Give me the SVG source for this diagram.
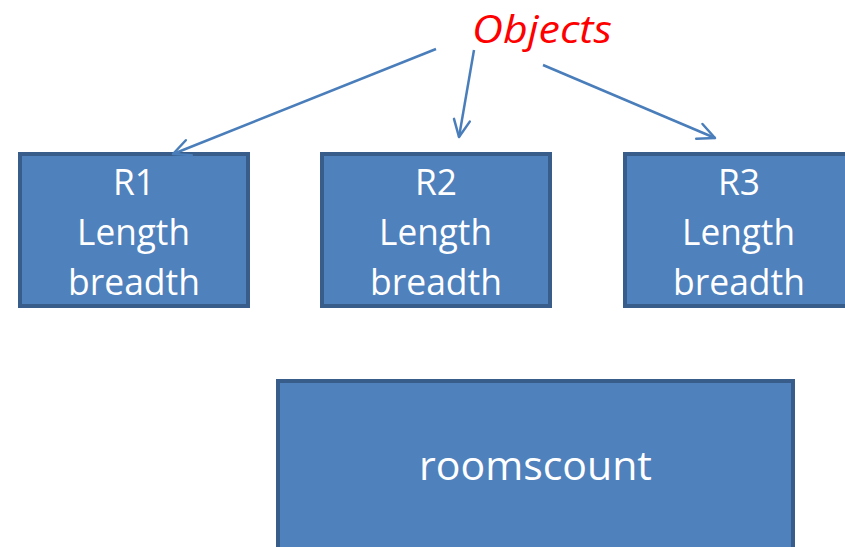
<svg xmlns="http://www.w3.org/2000/svg" width="845" height="547" viewBox="0 0 845 547">
  <style>
    .box { fill: #4f81bd; stroke: #385d8a; stroke-width: 4; }
    .lbl { font-family: "Open Sans", "Liberation Sans", Arial, sans-serif; font-size: 36px; fill: #ffffff; }
    .big { font-family: "Open Sans", "Liberation Sans", Arial, sans-serif; font-size: 41px; fill: #ffffff; }
    .title { font-family: "Open Sans", "Liberation Sans", Arial, sans-serif; font-size: 39px; font-style: italic; fill: #ff0000; }
    .conn { fill: none; stroke: #4a7ebb; stroke-width: 2.5; }
  </style>
  <defs>
    <marker id="arrow" viewBox="-20 -10 22 20" refX="0" refY="0" markerWidth="22" markerHeight="20" markerUnits="userSpaceOnUse" orient="auto">
      <path d="M -17 -8 L 0 0 L -17 8" fill="none" stroke="#4a7ebb" stroke-width="2.5" stroke-linecap="round" stroke-linejoin="round"/>
    </marker>
  </defs>
  <rect width="845" height="547" fill="#ffffff"/>

  <g id="objects-label">
    <text class="title" x="472" y="43" textLength="140" lengthAdjust="spacingAndGlyphs">Objects</text>
  </g>

  <g id="R1">
    <rect class="box" x="20" y="154" width="228" height="152"/>
    <text class="lbl" x="113" y="195" textLength="42" lengthAdjust="spacingAndGlyphs">R1</text>
    <text class="lbl" x="77" y="245" textLength="113" lengthAdjust="spacingAndGlyphs">Length</text>
    <text class="lbl" x="68" y="295" textLength="132" lengthAdjust="spacingAndGlyphs">breadth</text>
  </g>

  <g id="R2">
    <rect class="box" x="322" y="154" width="228" height="152"/>
    <text class="lbl" x="415" y="195" textLength="42" lengthAdjust="spacingAndGlyphs">R2</text>
    <text class="lbl" x="379" y="245" textLength="113" lengthAdjust="spacingAndGlyphs">Length</text>
    <text class="lbl" x="370" y="295" textLength="132" lengthAdjust="spacingAndGlyphs">breadth</text>
  </g>

  <g id="R3">
    <rect class="box" x="625" y="154" width="228" height="152"/>
    <text class="lbl" x="718" y="195" textLength="42" lengthAdjust="spacingAndGlyphs">R3</text>
    <text class="lbl" x="682" y="245" textLength="113" lengthAdjust="spacingAndGlyphs">Length</text>
    <text class="lbl" x="673" y="295" textLength="132" lengthAdjust="spacingAndGlyphs">breadth</text>
  </g>

  <g id="roomscount">
    <rect class="box" x="278" y="381" width="515" height="175"/>
    <text class="big" x="419" y="480" textLength="233" lengthAdjust="spacingAndGlyphs">roomscount</text>
  </g>

  <g id="connectors">
    <line class="conn" x1="436" y1="49" x2="173" y2="154" marker-end="url(#arrow)"/>
    <line class="conn" x1="474" y1="50" x2="459" y2="137" marker-end="url(#arrow)"/>
    <line class="conn" x1="543" y1="65" x2="715" y2="138" marker-end="url(#arrow)"/>
  </g>
</svg>
